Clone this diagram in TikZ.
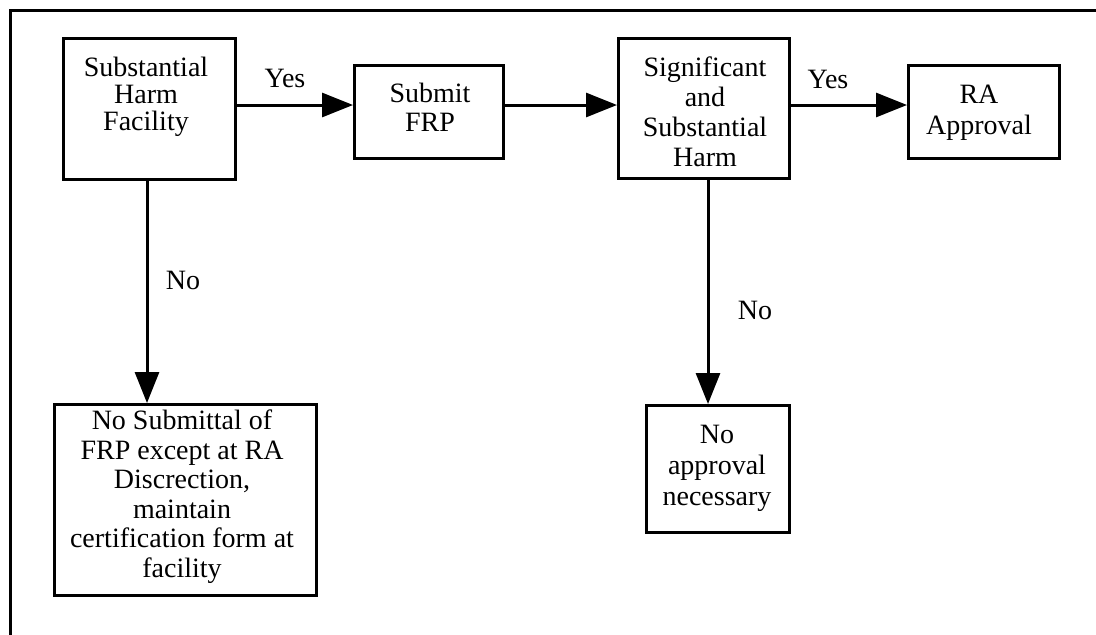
\documentclass[tikz,border=0pt]{standalone}
\usepackage{fontspec}
\setmainfont{Liberation Serif}
\usetikzlibrary{arrows.meta,calc}
\begin{document}
\begin{tikzpicture}[x=1pt,y=-1pt,
  box/.style={draw,line width=3pt,inner sep=0pt},
  txt/.style={align=center,inner sep=0pt},
  lbl/.style={inner sep=0pt,font=\fontsize{28}{30}\selectfont},
  arr/.style={line width=3pt,-{Triangle[length=31pt,width=24pt]}}]
\useasboundingbox (0,0) rectangle (1096,635);
\clip (0,0) rectangle (1096,635);
\draw[line width=3pt] (10,10) rectangle (1130,670);
% boxes
\node[box,minimum width=172pt,minimum height=141pt] (A) at (149.5,109) {};
\node[box,minimum width=149pt,minimum height=93pt] (B) at (429,112) {};
\node[box,minimum width=171pt,minimum height=140pt] (C) at (704,108.5) {};
\node[box,minimum width=151pt,minimum height=93pt] (D) at (984,112) {};
\node[box,minimum width=262pt,minimum height=191pt] (E) at (185.5,500) {};
\node[box,minimum width=143pt,minimum height=127pt] (F) at (718,469) {};
% texts
\node[txt,font=\fontsize{28}{27}\selectfont] (tA) at (146,97) {Substantial\\Harm\\Facility};
\node[txt,font=\fontsize{28}{29}\selectfont] (tB) at (430,107.5) {Submit\\FRP};
\node[txt,font=\fontsize{28}{30}\selectfont] (tC) at (705,112) {Significant\\and\\Substantial\\Harm};
\node[txt,font=\fontsize{28}{31}\selectfont] (tD) at (979,112.5) {RA\\Approval};
\node[txt,font=\fontsize{28}{29.5}\selectfont] (tE) at (182,496.5) {No Submittal of\\FRP except at RA\\Discrection,\\maintain\\certification form at\\facility};
\node[txt,font=\fontsize{28}{31}\selectfont] (tF) at (717,468.5) {No\\approval\\necessary};
% labels
\node[lbl] (y1) at (285,78) {Yes};
\node[lbl] (y2) at (828,79) {Yes};
\node[lbl] (n1) at (183,280) {No};
\node[lbl] (n2) at (755,310) {No};
% connectors
\coordinate (row) at (0,105);
\coordinate (colA) at (147,0);
\coordinate (colC) at (708,0);
\draw[arr] (A.east |- row) -- (B.west |- row);
\draw[arr] (B.east |- row) -- (C.west |- row);
\draw[arr] (C.east |- row) -- (D.west |- row);
\draw[arr] (A.south -| colA) -- (E.north -| colA);
\draw[arr] (C.south -| colC) -- (F.north -| colC);
\end{tikzpicture}
\end{document}
